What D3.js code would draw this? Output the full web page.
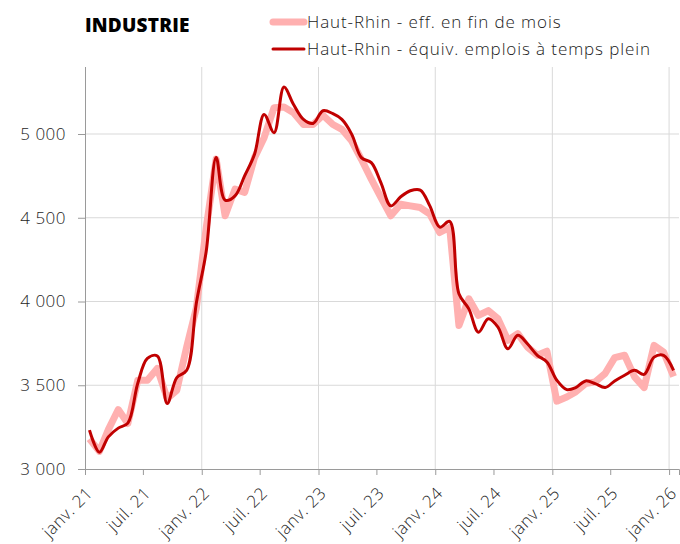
<!DOCTYPE html>
<html>
<head>
<meta charset="utf-8">
<script src="https://cdn.jsdelivr.net/npm/d3@7"></script>
<style>
    body { margin: 0; background: #fff; }
    svg text { font-family: "Open Sans", sans-serif; }
    .tick-label { font-family: "Open Sans", sans-serif; font-size: 17px; font-weight: 300; letter-spacing: 0.5px; fill: #262626; }
</style>
</head>
<body>
<div id="chart"></div>
<script>
// mois (donnée au milieu du mois)
const MONTHS = [
    '2021-01', '2021-02', '2021-03', '2021-04', '2021-05', '2021-06', '2021-07', '2021-08', '2021-09', '2021-10', '2021-11', '2021-12',
    '2022-01', '2022-02', '2022-03', '2022-04', '2022-05', '2022-06', '2022-07', '2022-08', '2022-09', '2022-10', '2022-11', '2022-12',
    '2023-01', '2023-02', '2023-03', '2023-04', '2023-05', '2023-06', '2023-07', '2023-08', '2023-09', '2023-10', '2023-11', '2023-12',
    '2024-01', '2024-02', '2024-03', '2024-04', '2024-05', '2024-06', '2024-07', '2024-08', '2024-09', '2024-10', '2024-11', '2024-12',
    '2025-01', '2025-02', '2025-03', '2025-04', '2025-05', '2025-06', '2025-07', '2025-08', '2025-09', '2025-10', '2025-11', '2025-12',
    '2026-01'
];

// Haut-Rhin - eff. en fin de mois
const EFF_FIN_MOIS = [
    3180, 3105, 3235, 3355, 3272, 3530, 3530, 3600, 3421, 3470, 3730, 3960,
    4440, 4850, 4512, 4671, 4651, 4859, 4978, 5157, 5161, 5127, 5057, 5057,
    5112, 5057, 5028, 4958, 4849, 4730, 4621, 4512, 4581, 4571, 4561, 4522,
    4412, 4442, 3857, 4016, 3917, 3946, 3897, 3768, 3808, 3728, 3679, 3703,
    3405, 3430, 3460, 3510, 3520, 3570, 3665, 3679, 3550, 3486, 3738, 3698,
    3552
];

// Haut-Rhin - équiv. emplois à temps plein
const EQUIV_ETP = [
    3232, 3100, 3192, 3244, 3274, 3512, 3660, 3675, 3391, 3546, 3589, 3990,
    4300, 4860, 4605, 4631, 4750, 4879, 5117, 5008, 5280, 5176, 5087, 5063,
    5139, 5121, 5087, 4998, 4859, 4829, 4710, 4571, 4625, 4661, 4665, 4571,
    4444, 4478, 4046, 3956, 3817, 3897, 3847, 3718, 3798, 3748, 3679, 3639,
    3530, 3474, 3486, 3526, 3510, 3486, 3526, 3560, 3589, 3565, 3668, 3679,
    3589
];

const Y_TICKS = [3000, 3500, 4000, 4500, 5000];
const MOIS_FR = ['janv.', 'févr.', 'mars', 'avr.', 'mai', 'juin', 'juil.', 'août', 'sept.', 'oct.', 'nov.', 'déc.'];

const COLOR_EFF = '#ffb0b0';
const COLOR_ETP = '#c00000';

const width = 680;
const height = 544;
const margin = { top: 67, right: 1, bottom: 75, left: 85 };

const parseMonth = d3.timeParse('%Y-%m');
const dates = MONTHS.map(m => d3.timeDay.offset(parseMonth(m), 14));

const svg = d3.select('#chart')
    .append('svg')
    .attr('width', width)
    .attr('height', height);

const x = d3.scaleTime()
    .domain([parseMonth('2021-01'), parseMonth('2026-02')])
    .range([margin.left, width - margin.right]);

const y = d3.scaleLinear()
    .domain([3000, 5400])
    .range([height - margin.bottom, margin.top]);

const xTicks = d3.timeMonth.every(6).range(parseMonth('2021-01'), parseMonth('2026-02'));
const janTicks = xTicks.filter(d => d.getMonth() === 0);

// grille
svg.append('g')
    .selectAll('line')
    .data(Y_TICKS.slice(1))
    .join('line')
    .attr('x1', margin.left)
    .attr('x2', width - margin.right)
    .attr('y1', d => y(d))
    .attr('y2', d => y(d))
    .attr('stroke', '#d9d9d9')
    .attr('stroke-width', 1);

svg.append('g')
    .selectAll('line')
    .data(janTicks.slice(1))
    .join('line')
    .attr('x1', d => x(d))
    .attr('x2', d => x(d))
    .attr('y1', y(5400))
    .attr('y2', y(3000))
    .attr('stroke', '#d9d9d9')
    .attr('stroke-width', 1);

// axes
const yAxis = svg.append('g')
    .attr('transform', `translate(${margin.left},0)`)
    .call(d3.axisLeft(y)
        .tickValues(Y_TICKS)
        .tickSize(7)
        .tickPadding(12)
        .tickFormat(d => d3.format(',')(d).replace(',', ' ')));
yAxis.select('.domain').attr('d', `M0.5,${y(5400)}V${y(3000)}`);

const xAxis = svg.append('g')
    .attr('transform', `translate(0,${height - margin.bottom})`)
    .call(d3.axisBottom(x)
        .tickValues(xTicks)
        .tickSize(6)
        .tickFormat(d => MOIS_FR[d.getMonth()] + ' ' + d3.timeFormat('%y')(d)));

[yAxis, xAxis].forEach(ax => {
    ax.select('.domain').attr('stroke', '#9a9a9a');
    ax.selectAll('.tick line').attr('stroke', '#9a9a9a');
    ax.selectAll('.tick text').attr('class', 'tick-label').attr('fill', null);
});

xAxis.selectAll('.tick text')
    .attr('text-anchor', 'end')
    .attr('transform', 'translate(4,21) rotate(-45)')
    .attr('dy', '0.35em')
    .attr('y', 0)
    .attr('dx', 0);

// séries
const lineEff = d3.line()
    .x((d, i) => x(dates[i]))
    .y(d => y(d));

const lineEtp = d3.line()
    .x((d, i) => x(dates[i]))
    .y(d => y(d))
    .curve(d3.curveCatmullRom);

svg.append('path')
    .datum(EFF_FIN_MOIS)
    .attr('d', lineEff)
    .attr('fill', 'none')
    .attr('stroke', COLOR_EFF)
    .attr('stroke-width', 7)
    .attr('stroke-linejoin', 'round');

svg.append('path')
    .datum(EQUIV_ETP)
    .attr('d', lineEtp)
    .attr('fill', 'none')
    .attr('stroke', COLOR_ETP)
    .attr('stroke-width', 3)
    .attr('stroke-linejoin', 'round');

// titre
svg.append('text')
    .attr('x', 85)
    .attr('y', 32)
    .attr('font-size', 19)
    .attr('font-weight', 800)
    .attr('letter-spacing', 0.2)
    .attr('fill', '#000')
    .text('INDUSTRIE');

// légende
const legend = [
    { label: 'Haut-Rhin - eff. en fin de mois', color: COLOR_EFF, w: 7, y: 22 },
    { label: 'Haut-Rhin - équiv. emplois à temps plein', color: COLOR_ETP, w: 3, y: 49 }
];

const lg = svg.append('g')
    .selectAll('g')
    .data(legend)
    .join('g');

lg.append('line')
    .attr('x1', 273)
    .attr('x2', 304)
    .attr('y1', d => d.y)
    .attr('y2', d => d.y)
    .attr('stroke', d => d.color)
    .attr('stroke-width', d => d.w)
    .attr('stroke-linecap', 'round');

lg.append('text')
    .attr('x', 307)
    .attr('y', d => d.y + 6)
    .attr('font-size', 17)
    .attr('font-weight', 300)
    .attr('letter-spacing', 0.9)
    .attr('fill', '#1a1a1a')
    .text(d => d.label);
</script>
</body>
</html>
